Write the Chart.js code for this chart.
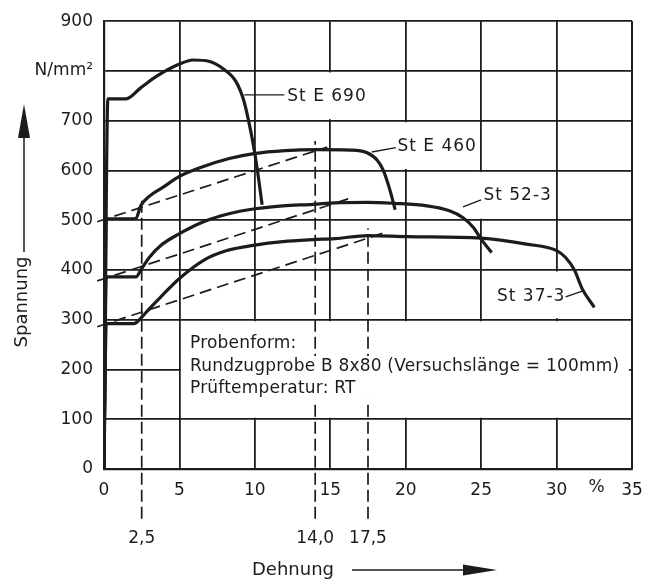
<!DOCTYPE html>
<html>
<head>
<meta charset="utf-8">
<script src="https://cdn.jsdelivr.net/npm/chart.js@4.4.0/dist/chart.umd.min.js"></script>
<style>
html, body { margin: 0; padding: 0; background: #fff; }
#wrap { width: 655px; height: 581px; }
</style>
</head>
<body>
<div id="wrap"><canvas id="chart"></canvas></div>
<script>
// Spannung-Dehnung curves (Dehnung in %, Spannung in N/mm2)
var dehnungE690 = [0, 0.26, 1.46, 2.43, 3.52, 4.93, 5.91, 7.0, 7.87, 8.74, 9.28, 9.72, 10.0, 10.26, 10.48];
var spannungE690 = [0, 744, 744, 766, 790, 813, 822, 819, 805, 779, 739, 680, 634, 581, 531];

var dehnungE460 = [0, 0.15, 2.1, 2.45, 3.0, 3.9, 5.0, 6.5, 8.3, 9.93, 12.0, 14.1, 16.3, 17.4, 18.1, 18.5, 18.95, 19.3];
var spannungE460 = [0, 503, 503, 530, 548, 566, 588, 607, 624, 634, 640, 642, 641, 636, 621, 601, 561, 521];

var dehnung523 = [0, 0.15, 2.1, 2.5, 3.0, 3.8, 5.0, 6.6, 8.15, 10.0, 11.85, 13.85, 15.3, 17.5, 19.2, 21.4, 22.9, 23.8, 24.5, 25.0, 25.7];
var spannung523 = [0, 386, 386, 403, 425, 450, 473, 497, 512, 523, 529, 532, 535, 536, 534, 529, 519, 505, 485, 462, 435];

var dehnung373 = [0, 0.15, 1.97, 2.5, 3.0, 3.8, 5.0, 6.63, 8.15, 10.0, 11.85, 13.85, 15.3, 17.5, 20.1, 25.0, 28.0, 30.0, 30.6, 31.2, 31.7, 32.5];
var spannung373 = [0, 292, 292, 305, 322, 347, 383, 420, 439, 450, 457, 461, 463, 469, 467, 464, 452, 439, 425, 399, 362, 325];

// dashed helper lines (parallel to the elastic part)
var hilfeE460X = [-0.45, 14.8];
var hilfeE460Y = [497, 647];
var hilfe523X = [-0.45, 16.2];
var hilfe523Y = [378, 543];
var hilfe373X = [-0.45, 18.5];
var hilfe373Y = [286, 474];

// vertical marks below the axis
var markWerte = [2.5, 14.0, 17.5];
var markLabels = ['2,5', '14,0', '17,5'];
var markOben = [543, 659, 484];
var markUnten = -100;

var curveNames = ['St E 690', 'St E 460', 'St 52-3', 'St 37-3'];
var boxLines = ['Probenform:', 'Rundzugprobe B 8x80 (Versuchslänge = 100mm)', 'Prüftemperatur: RT'];

var black = '#1c1c1c';
var fontName = '"DejaVu Sans", sans-serif';

function toPoints(xs, ys) {
    return xs.map(function (x, i) { return { x: x, y: ys[i] }; });
}

function curve(label, xs, ys) {
    return {
        label: label,
        data: toPoints(xs, ys),
        borderColor: black,
        borderWidth: 3.2,
        pointRadius: 0,
        fill: false,
        cubicInterpolationMode: 'monotone'
    };
}

function dashed(xs, ys, dash) {
    return {
        data: toPoints(xs, ys),
        borderColor: black,
        borderWidth: 1.7,
        borderDash: dash,
        pointRadius: 0,
        fill: false,
        tension: 0,
        clip: false
    };
}

var datasets = [
    curve(curveNames[0], dehnungE690, spannungE690),
    curve(curveNames[1], dehnungE460, spannungE460),
    curve(curveNames[2], dehnung523, spannung523),
    curve(curveNames[3], dehnung373, spannung373),
    dashed(hilfeE460X, hilfeE460Y, [12, 6]),
    dashed(hilfe523X, hilfe523Y, [12, 6]),
    dashed(hilfe373X, hilfe373Y, [12, 6])
];
for (var i = 0; i < markWerte.length; i++) {
    datasets.push(dashed([markWerte[i], markWerte[i]], [markUnten, markOben[i]], [12, 5]));
}

function arrowHead(ctx, x, y, dx, dy, len, half) {
    ctx.beginPath();
    ctx.moveTo(x, y);
    ctx.lineTo(x - dx * len - dy * half, y - dy * len + dx * half);
    ctx.lineTo(x - dx * len + dy * half, y - dy * len - dx * half);
    ctx.closePath();
    ctx.fill();
}

var extras = {
    id: 'extras',
    beforeDatasetsDraw: function (chart) {
        var ctx = chart.ctx, xs = chart.scales.x, ys = chart.scales.y;
        function px(v) { return xs.getPixelForValue(v); }
        function py(v) { return ys.getPixelForValue(v); }
        ctx.save();
        ctx.fillStyle = '#fff';
        // text box without inner grid
        var l = px(5) + 1.5, r = px(35) - 3, t = py(300) + 1.5, b = py(100) - 1.5;
        ctx.fillRect(l, t, r - l, b - t);
        // grid pieces left out behind the curve labels
        var gaps = [[15, 800, 700], [20, 700, 600], [25, 600, 500], [30, 400, 300]];
        gaps.forEach(function (g) {
            ctx.fillRect(px(g[0]) - 2.5, py(g[1]) + 1.5, 5, py(g[2]) - py(g[1]) - 3);
        });
        ctx.restore();
    },
    afterDatasetsDraw: function (chart) {
        var ctx = chart.ctx, xs = chart.scales.x, ys = chart.scales.y;
        function px(v) { return xs.getPixelForValue(v); }
        function py(v) { return ys.getPixelForValue(v); }
        ctx.save();
        ctx.fillStyle = black;
        ctx.strokeStyle = black;
        ctx.lineWidth = 1.4;
        ctx.font = '17px ' + fontName;
        ctx.textBaseline = 'middle';
        ctx.textAlign = 'left';

        // curve labels with leader lines
        var labels = [
            { text: curveNames[0], tx: 12.15, ty: 749, from: [9.3, 752], to: [11.95, 752] },
            { text: curveNames[1], tx: 19.45, ty: 648, from: [17.75, 637], to: [19.35, 646] },
            { text: curveNames[2], tx: 25.15, ty: 549, from: [23.8, 527], to: [25.0, 541] },
            { text: curveNames[3], tx: 26.05, ty: 346, from: [31.75, 358], to: [30.6, 346] }
        ];
        ctx.letterSpacing = '1px';
        labels.forEach(function (lb) {
            ctx.beginPath();
            ctx.moveTo(px(lb.from[0]), py(lb.from[1]));
            ctx.lineTo(px(lb.to[0]), py(lb.to[1]));
            ctx.stroke();
            ctx.fillText(lb.text, px(lb.tx), py(lb.ty));
        });

        // text box; the marks stop behind the 2nd and 3rd line
        ctx.letterSpacing = '0.2px';
        var bx = px(5.7), rows = [py(252), py(205), py(161)];
        var wide = ctx.measureText(boxLines[1]).width;
        ctx.save();
        ctx.fillStyle = '#fff';
        ctx.fillRect(bx - 2, rows[1] - 11, Math.min(wide + 4, px(35) - bx - 4), rows[2] - rows[1] + 22);
        ctx.restore();
        boxLines.forEach(function (s, k) { ctx.fillText(s, bx, rows[k]); });
        ctx.letterSpacing = '0px';

        // unit on the x axis
        ctx.textAlign = 'center';
        ctx.fillText('%', px(32.65), py(0) + 19);

        // labels of the marks
        for (var i = 0; i < markWerte.length; i++) {
            ctx.fillText(markLabels[i], px(markWerte[i]), 539);
        }

        // axis titles with arrows
        ctx.font = '18px ' + fontName;
        ctx.fillText('Dehnung', 293, 570);
        ctx.lineWidth = 1.5;
        ctx.beginPath();
        ctx.moveTo(352, 570);
        ctx.lineTo(470, 570);
        ctx.stroke();
        arrowHead(ctx, 497, 570, 1, 0, 34, 5.5);

        ctx.save();
        ctx.translate(22, 302);
        ctx.rotate(-Math.PI / 2);
        ctx.fillText('Spannung', 0, 0);
        ctx.restore();
        ctx.beginPath();
        ctx.moveTo(24, 252);
        ctx.lineTo(24, 130);
        ctx.stroke();
        arrowHead(ctx, 24, 104, 0, -1, 34, 6);

        ctx.restore();
    },
    afterDraw: function (chart) {
        // right edge of the frame, drawn last so nothing covers it
        var ctx = chart.ctx, area = chart.chartArea;
        ctx.save();
        ctx.strokeStyle = black;
        ctx.lineWidth = 2;
        ctx.beginPath();
        ctx.moveTo(area.right, area.top);
        ctx.lineTo(area.right, area.bottom);
        ctx.stroke();
        ctx.restore();
    }
};

var ctx = document.getElementById('chart').getContext('2d');
var chartSpannung = new Chart(ctx, {
    type: 'line',
    data: { datasets: datasets },
    options: {
        responsive: true,
        maintainAspectRatio: false,
        animation: false,
        layout: { padding: { top: 16, right: 23, left: 0, bottom: 0 } },
        plugins: {
            legend: { display: false },
            tooltip: { enabled: false }
        },
        scales: {
            x: {
                type: 'linear',
                min: 0,
                max: 35,
                ticks: {
                    stepSize: 5,
                    color: black,
                    padding: 11,
                    maxRotation: 0,
                    font: { family: fontName, size: 17 }
                },
                grid: { color: black, lineWidth: 1.8, drawTicks: false },
                border: { color: black, width: 2.2 },
                afterFit: function (scale) { scale.height = 112; }
            },
            y: {
                type: 'linear',
                min: 0,
                max: 900,
                ticks: {
                    stepSize: 100,
                    color: black,
                    padding: 11,
                    font: { family: fontName, size: 17 },
                    callback: function (v) { return v === 800 ? 'N/mm²' : v; }
                },
                grid: { color: black, lineWidth: 1.8, drawTicks: false },
                border: { color: black, width: 2.2 },
                afterFit: function (scale) { scale.width = 104; }
            }
        }
    },
    plugins: [extras]
});
</script>
</body>
</html>
